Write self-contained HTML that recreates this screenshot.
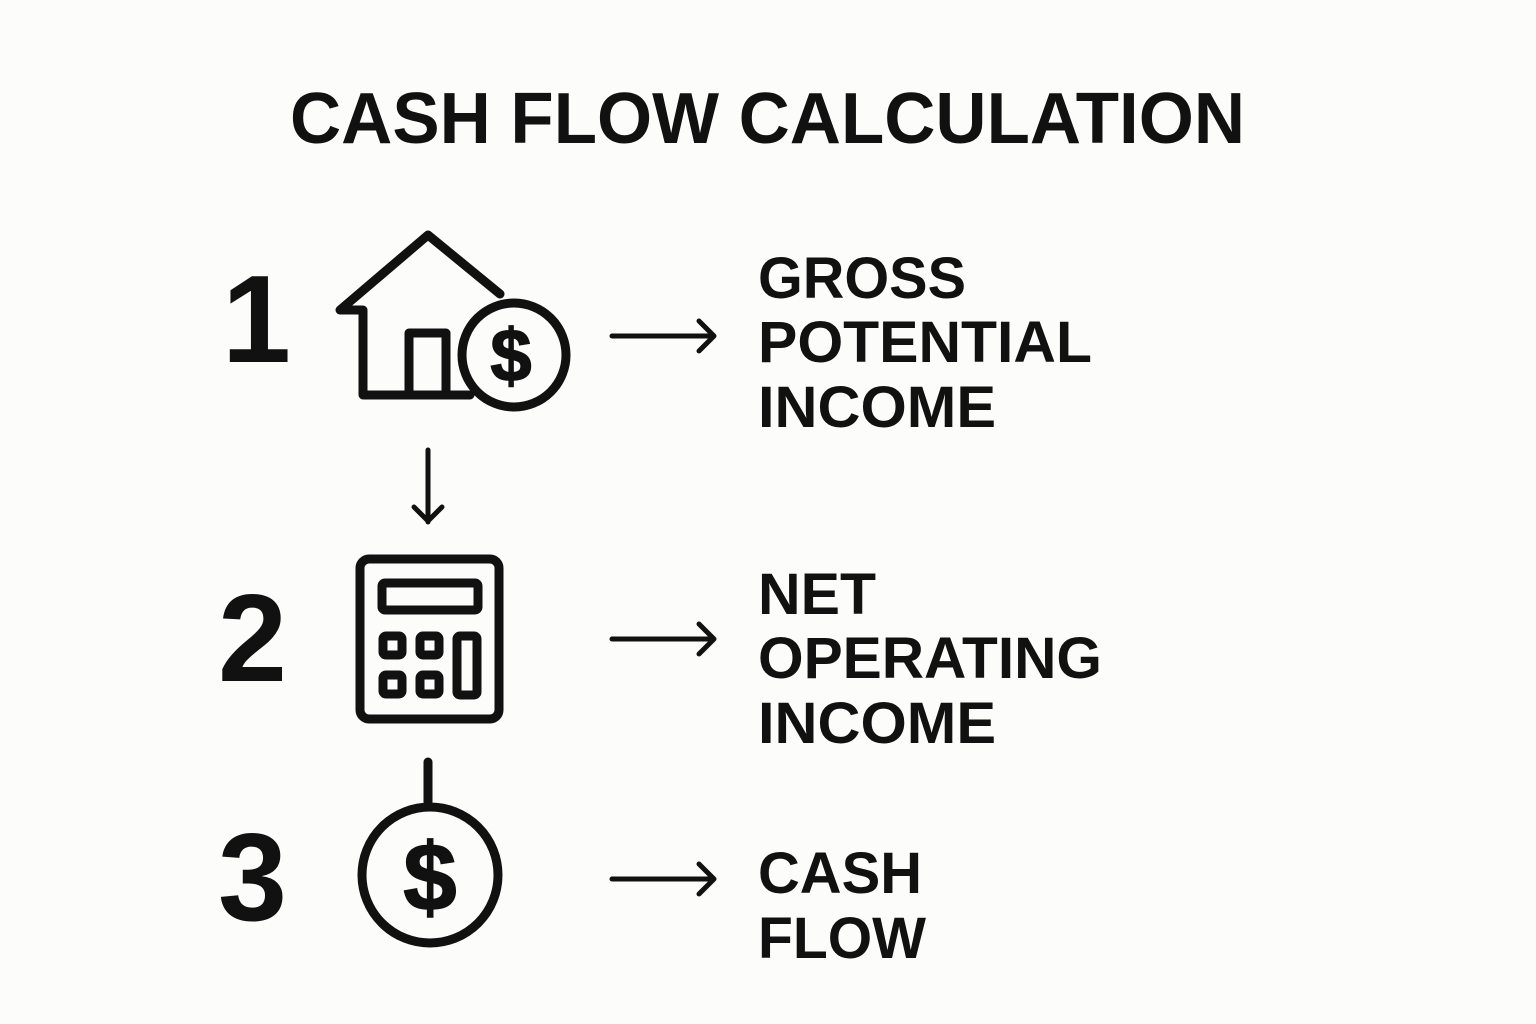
<!DOCTYPE html>
<html><head><style>
html,body{margin:0;padding:0;background:#fcfcfa;}
</style></head><body>
<svg width="1536" height="1024" viewBox="0 0 1536 1024" xmlns="http://www.w3.org/2000/svg" style="display:block">
<rect width="1536" height="1024" fill="#fcfcfa"/>
<g font-family="Liberation Sans, sans-serif" font-weight="bold" fill="#111">
<text x="290" y="143" font-size="72" textLength="955" lengthAdjust="spacingAndGlyphs">CASH FLOW CALCULATION</text>
<text x="222" y="362" font-size="124">1</text>
<text x="218" y="681" font-size="124">2</text>
<text x="218" y="920" font-size="124">3</text>
<g font-size="58">
<text x="758" y="298" textLength="208" lengthAdjust="spacingAndGlyphs">GROSS</text>
<text x="758" y="362" textLength="334" lengthAdjust="spacingAndGlyphs">POTENTIAL</text>
<text x="758" y="427" textLength="238" lengthAdjust="spacingAndGlyphs">INCOME</text>
<text x="758" y="614" textLength="118" lengthAdjust="spacingAndGlyphs">NET</text>
<text x="758" y="678" textLength="344" lengthAdjust="spacingAndGlyphs">OPERATING</text>
<text x="758" y="743" textLength="238" lengthAdjust="spacingAndGlyphs">INCOME</text>
<text x="758" y="893" textLength="164" lengthAdjust="spacingAndGlyphs">CASH</text>
<text x="758" y="958" textLength="168" lengthAdjust="spacingAndGlyphs">FLOW</text>
</g>
</g>
<g fill="none" stroke="#111" stroke-width="9" stroke-linecap="round" stroke-linejoin="round">
<!-- house -->
<polyline points="500,294 428,235 340,310 363,310 363,395 470,395"/>
<polyline points="409,395 409,333 446,333 446,395"/>
<circle cx="514" cy="355" r="52" fill="#fcfcfa"/>
<!-- calculator -->
<rect x="360" y="559" width="139" height="160" rx="9"/>
<rect x="382" y="583" width="96" height="27" rx="3"/>
<rect x="383" y="636" width="19" height="19" rx="3"/>
<rect x="420" y="636" width="19" height="19" rx="3"/>
<rect x="383" y="675" width="19" height="19" rx="3"/>
<rect x="420" y="675" width="19" height="19" rx="3"/>
<rect x="457" y="636" width="20" height="59" rx="3"/>
<!-- coin 3 -->
<line x1="428" y1="762" x2="428" y2="802"/>
<circle cx="430" cy="875" r="68"/>
</g>
<g fill="none" stroke="#111" stroke-width="5" stroke-linecap="round" stroke-linejoin="round">
<line x1="428" y1="450" x2="428" y2="522"/>
<polyline points="414,507 428,521 442,507"/>
<line x1="612" y1="336" x2="713" y2="336"/><polyline points="699,321 714,336 699,351"/>
<line x1="612" y1="639" x2="713" y2="639"/><polyline points="699,624 714,639 699,654"/>
<line x1="612" y1="879" x2="713" y2="879"/><polyline points="699,864 714,879 699,894"/>
</g>
<g font-family="Liberation Sans, sans-serif" font-weight="bold" fill="#111" text-anchor="middle" stroke="#111" stroke-width="1.5">
<text x="511" y="381" font-size="74">$</text>
<text x="430" y="910" font-size="96">$</text>
</g>
</svg>
</body></html>
